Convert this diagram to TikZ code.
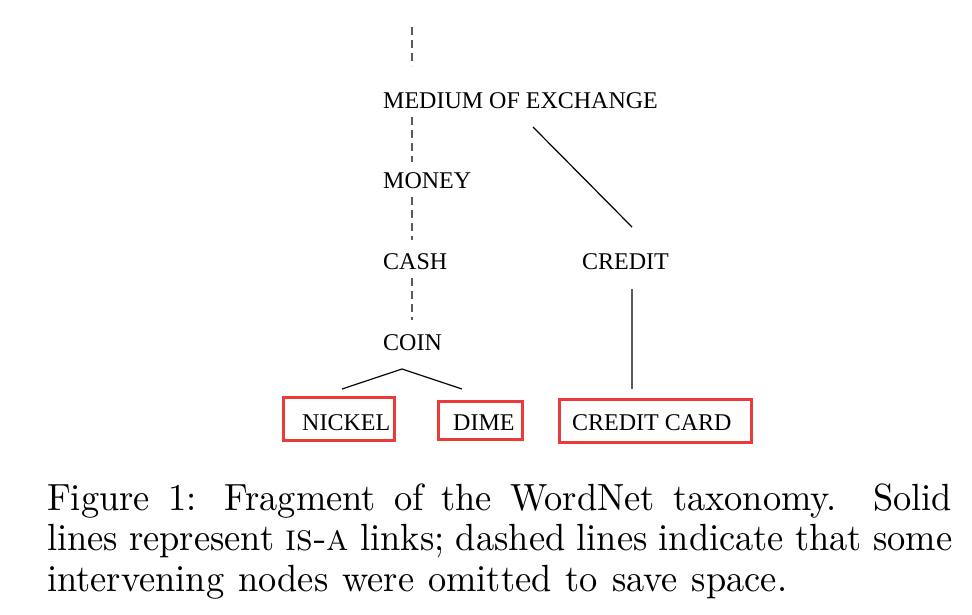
\documentclass[tikz,border=0pt]{standalone}
\usepackage{fontspec}
\newfontfamily\timesfont{Liberation Serif}
\newfontfamily\capfont{lmroman10-regular}[Extension=.otf, SmallCapsFont=lmromancaps10-regular]
\definecolor{boxred}{RGB}{236,58,58}
\definecolor{linegray}{RGB}{90,90,90}
\tikzset{
  term/.style={anchor=base west, inner sep=0pt, font=\timesfont\fontsize{24}{28}\selectfont},
  captionline/.style={anchor=base west, inner sep=0pt, yscale=1.04, transform shape, font=\capfont\fontsize{36.4}{40}\selectfont},
  omitted/.style={draw=linegray, line width=1.8pt, dash pattern=on 8pt off 5pt},
  isa/.style={draw=linegray, line width=1.6pt},
  isathin/.style={draw=black, line width=1.2pt},
  redbox/.style={draw=boxred, line width=3pt}
}
\begin{document}
\begin{tikzpicture}[x=1pt,y=-1pt]
\useasboundingbox (0,0) rectangle (972,614);
% terms
\node[term] (med) at (383,108) {MEDIUM OF EXCHANGE};
\node[term] (money) at (383,188) {MONEY};
\node[term] (cash) at (383,269) {CASH};
\node[term] (credit) at (582,269) {CREDIT};
\node[term] (coin) at (383,350) {COIN};
\node[term] (nickel) at (302,430) {NICKEL};
\node[term] (dime) at (453,430) {DIME};
\node[term] (ccard) at (572,430) {CREDIT CARD};
% boxes
\draw[redbox] (283,397) rectangle (394,440);
\draw[redbox] (438,401) rectangle (522,439);
\draw[redbox] (559,399) rectangle (751,442);
% connector end points
\coordinate (top) at (412,27);
\coordinate (medtop) at (412,66);
\coordinate (medbot) at (412,117);
\coordinate (moneytop) at (412,162);
\coordinate (moneybot) at (412,197);
\coordinate (cashtop) at (412,240);
\coordinate (cashbot) at (412,278);
\coordinate (cointop) at (412,320);
\coordinate (medright) at (533,127);
\coordinate (credittop) at (632,227);
\coordinate (creditbot) at (632,289);
\coordinate (ccardtop) at (632,389);
\coordinate (coinapex) at (402,369);
\coordinate (nickeltop) at (342,389);
\coordinate (dimetop) at (462,389);
% dashed
\draw[omitted] (top) -- (medtop);
\draw[omitted] (medbot) -- (moneytop);
\draw[omitted] (moneybot) -- (cashtop);
\draw[omitted] (cashbot) -- (cointop);
% solid
\draw[isathin] (medright) -- (credittop);
\draw[isa] (creditbot) -- (ccardtop);
\draw[isathin] (nickeltop) -- (coinapex) -- (dimetop);
% caption
\node[captionline] (cap1) at (47,510) {\makebox[905pt][s]{Figure 1: Fragment of the WordNet taxonomy.\ \ Solid}};
\node[captionline] (cap2) at (47,550) {\makebox[905pt][s]{lines represent \textsc{is-a} links; dashed lines indicate that some}};
\node[captionline] (cap3) at (47,591) {\makebox[740pt][s]{intervening nodes were omitted to save space.}};
\end{tikzpicture}
\end{document}
